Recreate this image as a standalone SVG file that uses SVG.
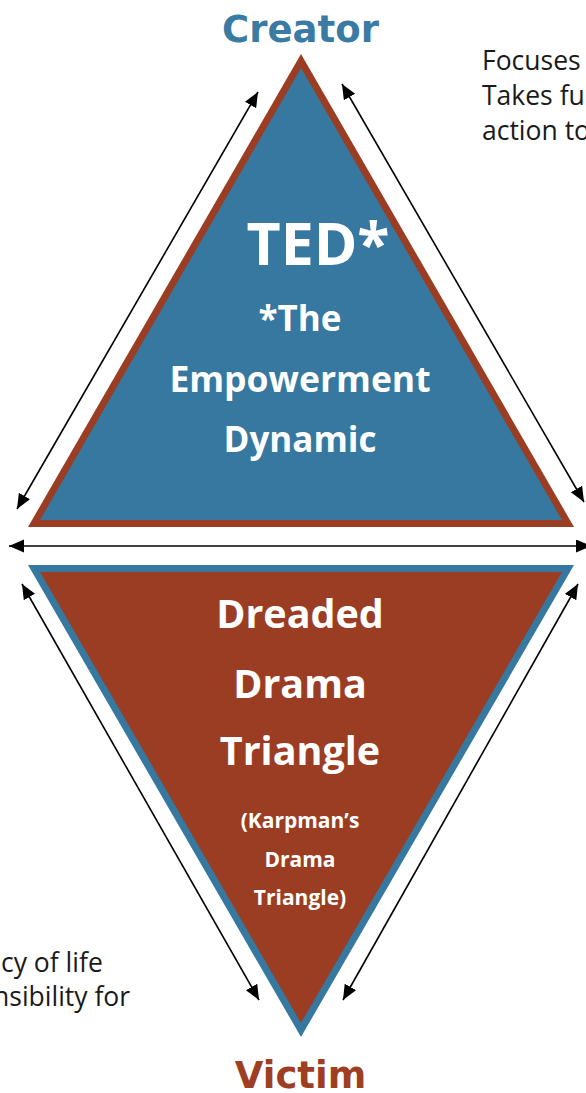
<svg xmlns="http://www.w3.org/2000/svg" width="586" height="1093" viewBox="0 0 586 1093">
<style>
.title{font-family:"DejaVu Sans",Verdana,sans-serif;font-weight:bold;font-size:37px;text-anchor:middle}
.in{font-family:"Open Sans","Noto Sans",sans-serif;font-weight:bold;fill:#ffffff;text-anchor:middle}
.side{font-family:"Open Sans","Noto Sans",sans-serif;font-size:26.5px;fill:#1a1a1a}
.conn line{stroke:#000;stroke-width:1.6;fill:none;marker-start:url(#ah);marker-end:url(#ah)}
</style>
<defs>
<marker id="ah" markerUnits="userSpaceOnUse" markerWidth="16" markerHeight="14" refX="15" refY="6.5" orient="auto-start-reverse">
<path d="M0,0 L15,6.5 L0,13 z" fill="#000"/>
</marker>
</defs>
<rect width="586" height="1093" fill="#ffffff"/>
<g id="connectors" class="conn">
<line x1="17" y1="509" x2="258" y2="92"/>
<line x1="342" y1="84" x2="584" y2="502"/>
<line x1="9" y1="546" x2="591" y2="546"/>
<line x1="22" y1="584" x2="259" y2="1000"/>
<line x1="578" y1="584" x2="343" y2="1000"/>
</g>
<g id="ted">
<polygon points="301,54 28,527 574,527" fill="#9b3d23"/>
<polygon points="301,68 40,520 562,520" fill="#36789f"/>
<text class="in" x="318" y="265" font-size="59">TED*</text>
<text class="in" x="300" y="331" font-size="35">*The</text>
<text class="in" x="300" y="392" font-size="35.5">Empowerment</text>
<text class="in" x="300" y="452" font-size="35">Dynamic</text>
</g>
<g id="ddt">
<polygon points="28,565 574,565 301,1037" fill="#36789f"/>
<polygon points="40,572 562,572 301,1023" fill="#9b3d23"/>
<text class="in" x="300" y="628" font-size="39.5">Dreaded</text>
<text class="in" x="300" y="698" font-size="39.5">Drama</text>
<text class="in" x="300" y="765" font-size="39.5">Triangle</text>
<text class="in" x="300" y="828" font-size="21">(Karpman’s</text>
<text class="in" x="300" y="867" font-size="21">Drama</text>
<text class="in" x="300" y="905" font-size="21">Triangle)</text>
</g>
<g id="creator">
<text class="title" x="300.5" y="42" fill="#3a7ba3">Creator</text>
</g>
<g id="victim">
<text class="title" x="300.5" y="1088" fill="#9e3f24">Victim</text>
</g>
<g id="creator-note">
<text class="side" x="482" y="70">Focuses</text>
<text class="side" x="482" y="105">Takes fu</text>
<text class="side" x="482" y="140">action to</text>
</g>
<g id="victim-note">
<text class="side" x="1" y="972">cy of life</text>
<text class="side" x="-7" y="1006">nsibility for</text>
</g>
</svg>
